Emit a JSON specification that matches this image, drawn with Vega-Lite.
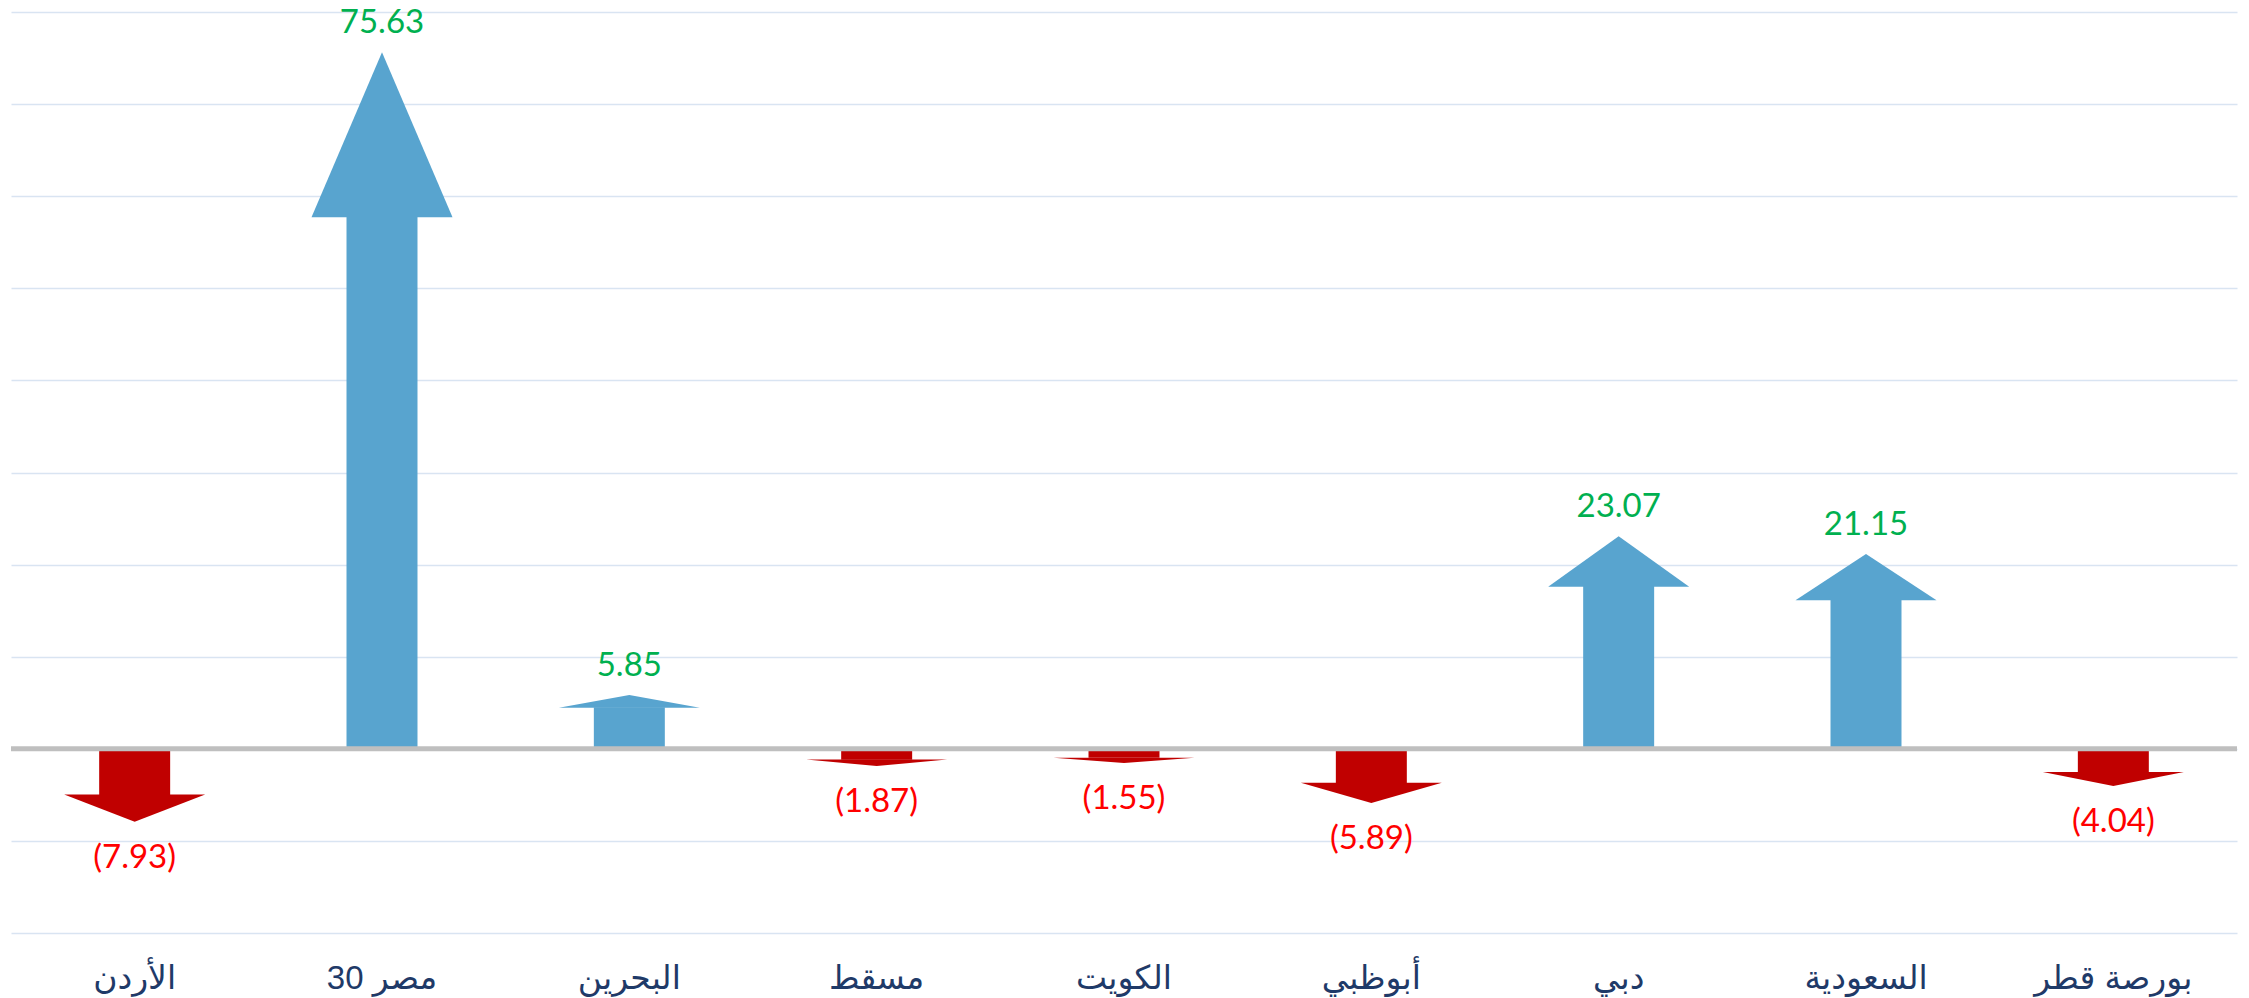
{
  "$schema": "https://vega.github.io/schema/vega-lite/v6.json",
  "autosize": {"type": "none"},
  "padding": {"left": 11, "top": 12, "right": 12, "bottom": 65},
  "width": 2226,
  "height": 921,
  "background": "white",
  "config": {
    "view": {"stroke": null},
    "axisX": {"ticks": false, "domain": false, "grid": false, "tickSize": 0, "labelPadding": 55, "labelBaseline": "alphabetic", "labelFontSize": 33, "labelFont": "Liberation Sans, DejaVu Sans", "labelColor": "#1F3A68", "labelAngle": 0, "labelLimit": 500, "title": null}
  },
  "data": {"values": [
    {"name": "الأردن", "value": -7.93},
    {"name": "مصر 30", "value": 75.63},
    {"name": "البحرين", "value": 5.85},
    {"name": "مسقط", "value": -1.87},
    {"name": "الكويت", "value": -1.55},
    {"name": "أبوظبي", "value": -5.89},
    {"name": "دبي", "value": 23.07},
    {"name": "السعودية", "value": 21.15},
    {"name": "بورصة قطر", "value": -4.04}
  ]},
  "layer": [
    {
      "transform": [{"filter": "datum.value > 0"}],
      "mark": {"type": "bar", "color": "#58A4CF", "width": {"band": 0.287}},
      "encoding": {
        "x": {"field": "name", "type": "nominal", "scale": {"domain": ["الأردن", "مصر 30", "البحرين", "مسقط", "الكويت", "أبوظبي", "دبي", "السعودية", "بورصة قطر"], "paddingInner": 0, "paddingOuter": 0}, "title": null},
        "y": {"field": "value", "type": "quantitative", "scale": {"domain": [-25.974, 103.896], "nice": false}, "axis": null}
      }
    },
    {
      "transform": [{"filter": "datum.value < 0"}],
      "mark": {"type": "bar", "color": "#C00000", "width": {"band": 0.287}},
      "encoding": {
        "x": {"field": "name", "type": "nominal", "scale": {"domain": ["الأردن", "مصر 30", "البحرين", "مسقط", "الكويت", "أبوظبي", "دبي", "السعودية", "بورصة قطر"], "paddingInner": 0, "paddingOuter": 0}, "title": null},
        "y": {"field": "value", "type": "quantitative", "scale": {"domain": [-31.496, 125.984], "nice": false}, "axis": null}
      }
    },
    {
      "mark": {"type": "point", "filled": true, "opacity": 1, "size": 19881, "strokeWidth": 0},
      "encoding": {
        "x": {"field": "name", "type": "nominal", "scale": {"domain": ["الأردن", "مصر 30", "البحرين", "مسقط", "الكويت", "أبوظبي", "دبي", "السعودية", "بورصة قطر"], "paddingInner": 0, "paddingOuter": 0}, "title": null},
        "y": {"field": "value", "type": "quantitative", "scale": {"domain": [-20, 80], "nice": false}, "axis": {"values": [-20, -10, 0, 10, 20, 30, 40, 50, 60, 70, 80], "grid": true, "gridColor": "#D9E4F2", "gridWidth": 1.5, "labels": false, "ticks": false, "domain": false, "tickSize": 0, "title": null}},
        "shape": {"field": "name", "type": "nominal", "legend": null, "scale": {
          "domain": ["الأردن", "مصر 30", "البحرين", "مسقط", "الكويت", "أبوظبي", "دبي", "السعودية", "بورصة قطر"],
          "range": ["M0,0L-1,-0.388L1,-0.388Z", "M0,0L-1,2.341L1,2.341Z", "M0,0L-1,0.181L1,0.181Z", "M0,0L-1,-0.0916L1,-0.0916Z", "M0,0L-1,-0.0759L1,-0.0759Z", "M0,0L-1,-0.2885L1,-0.2885Z", "M0,0L-1,0.714L1,0.714Z", "M0,0L-1,0.655L1,0.655Z", "M0,0L-1,-0.1979L1,-0.1979Z"]
        }},
        "color": {"condition": {"test": "datum.value > 0", "value": "#58A4CF"}, "value": "#C00000"}
      }
    },
    {
      "transform": [{"filter": "datum.value > 0"}],
      "mark": {"type": "text", "baseline": "alphabetic", "align": "center", "dy": -19, "font": "Lato", "fontSize": 33, "color": "#00B050"},
      "encoding": {
        "x": {"field": "name", "type": "nominal", "scale": {"domain": ["الأردن", "مصر 30", "البحرين", "مسقط", "الكويت", "أبوظبي", "دبي", "السعودية", "بورصة قطر"], "paddingInner": 0, "paddingOuter": 0}, "title": null},
        "y": {"field": "value", "type": "quantitative", "scale": {"domain": [-20, 80], "nice": false}, "axis": null},
        "text": {"field": "value", "type": "quantitative", "format": "(.2f"}
      }
    },
    {
      "transform": [{"filter": "datum.value < 0"}],
      "mark": {"type": "text", "baseline": "alphabetic", "align": "center", "dy": 46, "font": "Lato", "fontSize": 33, "color": "#FF0000"},
      "encoding": {
        "x": {"field": "name", "type": "nominal", "scale": {"domain": ["الأردن", "مصر 30", "البحرين", "مسقط", "الكويت", "أبوظبي", "دبي", "السعودية", "بورصة قطر"], "paddingInner": 0, "paddingOuter": 0}, "title": null},
        "y": {"field": "value", "type": "quantitative", "scale": {"domain": [-20, 80], "nice": false}, "axis": null},
        "text": {"field": "value", "type": "quantitative", "format": "(.2f"}
      }
    },
    {
      "transform": [{"aggregate": [{"op": "count", "as": "n"}]}],
      "mark": {"type": "rule", "color": "#BFBFBF", "strokeWidth": 5},
      "encoding": {
        "y": {"datum": 0, "type": "quantitative", "scale": {"domain": [-20, 80], "nice": false}, "axis": null}
      }
    }
  ],
  "resolve": {"scale": {"y": "independent"}}
}
